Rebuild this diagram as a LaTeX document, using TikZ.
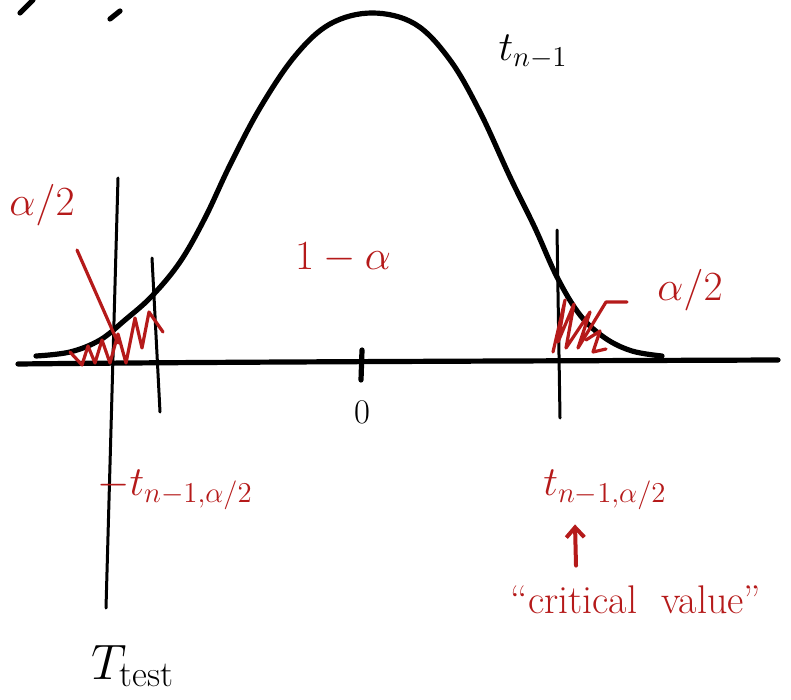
\documentclass[tikz,border=0pt]{standalone}
\usepackage{amsmath}
\definecolor{pen}{HTML}{B51A1A}
\definecolor{ink}{HTML}{000000}
\usetikzlibrary{arrows.meta,positioning,calc}

\begin{document}
\begin{tikzpicture}[x=0.5pt,y=-0.5pt,
    line cap=round,line join=round,
    crv/.style={draw=ink,line width=2.6pt},
    vln/.style={draw=ink,line width=1.5pt},
    hatch/.style={draw=pen,line width=1.6pt},
    rl/.style={text=pen,inner sep=1pt,font=\fontsize{20}{24}\selectfont},
    bl/.style={text=ink,inner sep=1pt,font=\fontsize{22}{26}\selectfont},
    ar/.style={-{Straight Barb[length=5pt,width=9pt]},pen,line width=2pt},
  ]
    \useasboundingbox (0,0) rectangle (791,700);

    % cut-off strokes at the top edge
    \draw[crv] (20,13) -- (33,0);
    \draw[crv] (110,19) -- (120,11);

    % axis and density
    \draw[crv] (18,364) .. controls (200,362) and (500,361) .. (778,360);
    \draw[crv] plot[smooth,tension=0.6] coordinates {
      (36,356) (70,352) (100,340) (125,320) (152,296) (180,262) (205,218)
      (230,165) (260,108) (295,56) (330,24) (372,13) (415,24) (450,60)
      (480,112) (510,177) (535,228) (557,277) (580,315) (605,338)
      (632,351) (662,356)};
    \draw[crv] (362,350) -- (361,380);

    % vertical lines
    \draw[vln] (118,178) -- (106,608);
    \draw[vln] (152,258) -- (160,412);
    \draw[vln] (557,230) -- (560,418);

    % tail shading
    \draw[hatch] (77,250) -- (118,343);
    \draw[hatch] (70,352) -- (82,365) -- (88,346) -- (95,363) -- (102,340)
      -- (110,363) -- (118,334) -- (126,363) -- (135,318) -- (142,348)
      -- (149,312) -- (163,332);
    \draw[hatch] (553,352) -- (565,300) -- (558,342) -- (574,304) -- (566,348)
      -- (590,312) -- (578,348) -- (606,302) -- (627,302);
    \draw[hatch] (586,340) -- (600,331) -- (593,352) -- (606,349);

    % labels
    \node[bl] (tn) at (533,52) {$t_{n-1}$};
    \node[rl] (al) at (42,205) {$\alpha/2$};
    \node[rl] (mid) at (343,258) {$1-\alpha$};
    \node[rl] (ar) at (690,290) {$\alpha/2$};
    \node[bl,font=\fontsize{19}{22}\selectfont] (zero) at (362,412) {$0$};
    \node[rl] (tlo) at (175,490) {$-t_{n-1,\alpha/2}$};
    \node[rl] (thi) at (605,490) {$t_{n-1,\alpha/2}$};
    \node[rl] (crit) at (636,600) {``critical\ \ value''};
    \node[bl,font=\fontsize{26}{30}\selectfont] (tt) at (133,666) {$T_{\text{test}}$};

    \draw[ar] ([xshift=-30pt,yshift=9pt]crit.north) -- ([xshift=-15pt,yshift=-6pt]thi.south);
  \end{tikzpicture}
\end{document}
